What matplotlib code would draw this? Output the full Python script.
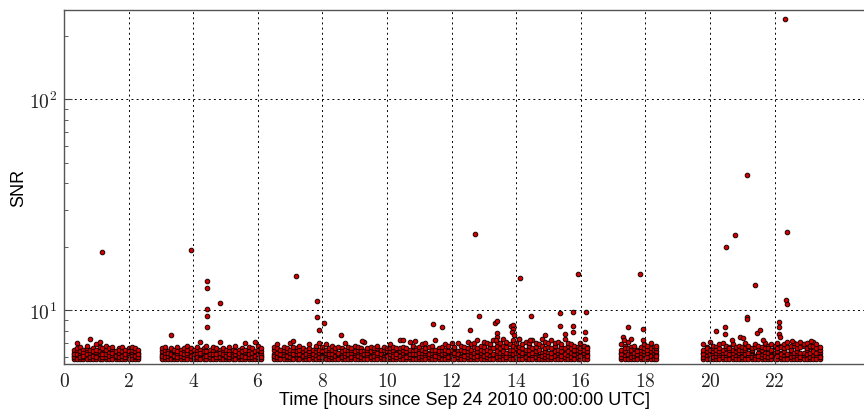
import matplotlib
matplotlib.use("Agg")
import matplotlib.pyplot as plt
from matplotlib.ticker import FixedLocator, FixedFormatter, LogLocator, NullFormatter

plt.rcParams['mathtext.fontset'] = 'cm'

# Background triggers: one row of SNR values per time bin (hours)
band_hours = [
    0.30, 0.39, 0.50, 0.59, 0.70, 0.80, 0.89, 1.00, 1.10, 1.19, 1.30, 1.40, 1.49, 1.60, 1.70,
    1.79, 1.90, 2.00, 2.09, 2.20, 2.29,
    3.02, 3.12, 3.21, 3.32, 3.42, 3.51, 3.62, 3.72, 3.81, 3.92, 4.02, 4.11, 4.22, 4.32, 4.41,
    4.52, 4.62, 4.71, 4.82, 4.92, 5.01, 5.12, 5.22, 5.31, 5.42, 5.52, 5.61, 5.72, 5.82, 5.91,
    6.02, 6.11,
    6.50, 6.60, 6.69, 6.80, 6.90, 6.99, 7.10, 7.20, 7.29, 7.40, 7.50, 7.59, 7.70, 7.80, 7.89,
    8.00, 8.10, 8.19, 8.30, 8.40, 8.49, 8.60, 8.70, 8.79, 8.90, 9.00, 9.09, 9.20, 9.30, 9.39,
    9.50, 9.60, 9.69, 9.80, 9.90, 9.99, 10.10, 10.20, 10.29, 10.40, 10.50, 10.59, 10.70, 10.80,
    10.89, 11.00, 11.10, 11.19, 11.30, 11.40, 11.49, 11.60, 11.70, 11.79, 11.90, 12.00, 12.09,
    12.20, 12.30, 12.39, 12.50, 12.60, 12.69, 12.80, 12.90, 12.99, 13.10, 13.20, 13.29, 13.40,
    13.50, 13.59, 13.70, 13.80, 13.89, 14.00, 14.10, 14.19, 14.30, 14.40, 14.49, 14.60, 14.70,
    14.79, 14.90, 15.00, 15.09, 15.20, 15.30, 15.39, 15.50, 15.60, 15.69, 15.80, 15.90, 15.99,
    16.10, 16.20,
    17.26, 17.36, 17.45, 17.56, 17.66, 17.75, 17.86, 17.96, 18.05, 18.16, 18.26, 18.33,
    19.80, 19.90, 19.99, 20.10, 20.20, 20.29, 20.40, 20.50, 20.59, 20.70, 20.80, 20.89, 21.00,
    21.10, 21.19, 21.30, 21.40, 21.49, 21.60, 21.70, 21.79, 21.90, 22.00, 22.09, 22.20, 22.30,
    22.39, 22.50, 22.60, 22.69, 22.80, 22.90, 22.99, 23.10, 23.20, 23.29, 23.40, 23.50, 23.59,
    23.70, 23.80, 23.89, 23.97,
]
band_snr = [
    # 0.3 - 2.3 h
    [5.9, 6.1, 6.3, 6.0, 6.5, 6.2], [6.0, 5.9, 6.4, 6.6, 6.2, 7.0], [6.1, 6.3, 5.9, 6.0, 6.7, 6.4],
    [5.9, 6.2, 6.5, 6.0, 6.3, 6.1], [6.0, 6.4, 6.2, 5.9, 6.6, 6.8], [6.1, 5.9, 6.3, 6.5, 6.0, 7.3],
    [6.2, 6.0, 6.6, 5.9, 6.4, 6.1], [5.9, 6.3, 6.1, 6.5, 6.0, 6.9], [6.0, 6.2, 5.9, 6.4, 6.7, 7.1],
    [6.1, 5.9, 6.3, 6.6, 6.0, 6.2], [5.9, 6.4, 6.0, 6.2, 6.5, 6.8], [6.2, 6.0, 5.9, 6.3, 6.6, 6.1],
    [6.0, 6.1, 6.5, 5.9, 6.3, 6.7], [5.9, 6.3, 6.0, 6.2, 6.4, 6.1], [6.1, 5.9, 6.6, 6.0, 6.3, 6.5],
    [6.0, 6.2, 5.9, 6.4, 6.1, 6.7], [5.9, 6.1, 6.3, 6.0, 6.5, 6.2], [6.2, 6.0, 5.9, 6.6, 6.3, 6.4],
    [6.0, 6.3, 6.1, 5.9, 6.5, 6.7], [5.9, 6.2, 6.0, 6.4, 6.1, 6.6], [6.1, 5.9, 6.3, 6.0, 6.5, 6.2],
    # 3.0 - 6.1 h
    [6.0, 5.9, 6.2, 6.4, 6.6, 6.1], [5.9, 6.1, 6.3, 6.0, 6.5, 6.7], [6.2, 6.0, 5.9, 6.4, 6.1, 6.3],
    [6.0, 6.3, 6.1, 5.9, 6.6, 6.2], [5.9, 6.2, 6.4, 6.0, 6.5, 6.1], [6.1, 5.9, 6.0, 6.3, 6.7, 6.4],
    [6.0, 6.2, 5.9, 6.5, 6.1, 6.3], [5.9, 6.4, 6.1, 6.0, 6.6, 6.2], [6.2, 6.0, 6.3, 5.9, 6.5, 6.8],
    [6.0, 5.9, 6.2, 6.4, 6.1, 6.6], [6.1, 6.3, 5.9, 6.0, 6.5, 6.2], [5.9, 6.1, 6.4, 6.2, 6.0, 6.7],
    [6.0, 6.2, 5.9, 6.5, 6.3, 7.1], [6.1, 5.9, 6.0, 6.3, 6.6, 6.4], [6.2, 6.0, 6.4, 5.9, 6.1, 6.8],
    [5.9, 6.3, 6.1, 6.0, 6.5, 6.2], [6.0, 6.1, 5.9, 6.4, 6.2, 6.7], [6.1, 5.9, 6.3, 6.0, 6.6, 6.2],
    [5.9, 6.2, 6.0, 6.5, 6.3, 7.1], [6.0, 6.4, 6.1, 5.9, 6.2, 6.6], [6.2, 5.9, 6.0, 6.3, 6.5, 6.1],
    [5.9, 6.1, 6.4, 6.0, 6.7, 6.2], [6.0, 6.3, 5.9, 6.2, 6.5, 6.1], [6.1, 6.0, 6.2, 5.9, 6.4, 6.8],
    [5.9, 6.2, 6.0, 6.5, 6.1, 6.3], [6.0, 5.9, 6.3, 6.1, 6.6, 6.4], [6.2, 6.1, 5.9, 6.0, 6.5, 7.0],
    [5.9, 6.3, 6.0, 6.4, 6.2, 6.7], [6.1, 5.9, 6.2, 6.0, 6.6, 6.3], [6.0, 6.2, 6.4, 5.9, 6.1, 7.1],
    [5.9, 6.0, 6.3, 6.5, 6.2, 6.8], [6.1, 6.2, 5.9, 6.0, 6.4, 6.6],
    # 6.5 - 16.2 h
    [6.0, 5.9, 6.2, 6.5, 6.1, 6.7], [5.9, 6.1, 6.3, 6.0, 6.6, 6.9], [6.1, 6.0, 5.9, 6.4, 6.2, 6.5],
    [6.0, 6.3, 6.1, 5.9, 6.5, 6.7], [5.9, 6.2, 6.0, 6.4, 6.1, 6.6], [6.2, 5.9, 6.3, 6.0, 6.5, 7.0],
    [6.0, 6.1, 5.9, 6.4, 6.2, 6.7], [5.9, 6.3, 6.0, 6.2, 6.6, 6.4], [6.1, 6.0, 6.2, 5.9, 6.5, 6.8],
    [5.9, 6.2, 6.4, 6.0, 6.1, 6.6], [6.0, 5.9, 6.3, 6.1, 6.5, 6.2], [6.2, 6.0, 5.9, 6.4, 6.6, 6.9],
    [5.9, 6.1, 6.3, 6.0, 6.2, 6.5], [6.0, 6.4, 6.1, 5.9, 6.6, 6.8], [6.1, 5.9, 6.0, 6.3, 6.5, 7.0],
    [5.9, 6.2, 6.1, 6.4, 6.0, 6.7], [6.0, 6.0, 6.3, 5.9, 6.5, 6.9], [6.2, 5.9, 6.1, 6.4, 6.2, 6.6],
    [5.9, 6.3, 6.0, 6.2, 6.5, 6.8], [6.0, 6.1, 5.9, 6.4, 6.1, 6.6], [6.1, 6.0, 6.2, 5.9, 6.3, 6.7],
    [5.9, 6.2, 6.4, 6.0, 6.6, 6.4], [6.0, 5.9, 6.1, 6.3, 6.5, 7.0], [6.2, 6.0, 5.9, 6.4, 6.2, 6.7],
    [5.9, 6.1, 6.3, 6.0, 6.5, 6.6], [6.0, 6.3, 6.0, 5.9, 6.4, 6.8], [6.1, 5.9, 6.2, 6.5, 6.1, 6.7],
    [5.9, 6.2, 6.0, 6.3, 6.6, 6.4], [6.0, 6.1, 5.9, 6.4, 6.2, 7.1], [6.2, 6.0, 6.3, 5.9, 6.5, 6.6],
    [5.9, 6.3, 6.1, 6.0, 6.4, 6.7], [6.0, 5.9, 6.2, 6.5, 6.1, 6.6], [6.1, 6.0, 5.9, 6.3, 6.6, 6.8],
    [5.9, 6.2, 6.4, 6.0, 6.2, 6.5], [6.0, 6.1, 6.0, 5.9, 6.5, 6.7], [6.2, 5.9, 6.3, 6.1, 6.4, 6.6],
    [5.9, 6.0, 6.2, 6.4, 6.6, 6.9], [6.0, 6.3, 5.9, 6.1, 6.5, 6.7], [6.1, 5.9, 6.0, 6.3, 6.2, 6.6],
    [5.9, 6.2, 6.1, 6.4, 6.6, 7.2], [6.0, 6.0, 6.3, 5.9, 6.5, 6.7], [6.2, 5.9, 6.1, 6.4, 6.0, 6.6],
    [5.9, 6.3, 6.0, 6.2, 6.5, 7.1], [6.0, 6.1, 5.9, 6.4, 6.2, 6.8], [6.1, 6.0, 6.2, 5.9, 6.6, 6.5],
    [5.9, 6.2, 6.4, 6.0, 6.3, 6.7], [6.0, 5.9, 6.1, 6.3, 6.5, 6.9], [6.2, 6.0, 5.9, 6.4, 6.6, 7.0],
    [5.9, 6.1, 6.3, 6.0, 6.2, 6.7], [6.0, 6.3, 6.0, 5.9, 6.5, 6.8], [6.1, 5.9, 6.2, 6.5, 6.1, 7.2],
    [5.9, 6.2, 6.0, 6.3, 6.6, 6.4], [6.0, 6.1, 5.9, 6.4, 6.2, 6.7], [6.2, 6.0, 6.3, 5.9, 6.5, 6.9],
    [5.9, 6.3, 6.1, 6.0, 6.4, 6.8], [6.0, 5.9, 6.2, 6.5, 6.1, 7.0], [6.1, 6.0, 5.9, 6.3, 6.6, 6.7],
    [5.9, 6.2, 6.4, 6.0, 6.2, 7.0], [6.0, 6.1, 6.0, 5.9, 6.5, 6.8], [6.2, 5.9, 6.3, 6.1, 6.4, 6.7],
    [5.9, 6.0, 6.2, 6.4, 6.6, 7.1], [6.0, 6.3, 5.9, 6.1, 6.5, 6.9], [6.1, 5.9, 6.0, 6.3, 6.7, 7.0],
    [5.9, 6.2, 6.1, 6.4, 6.6, 7.2], [6.0, 6.0, 6.3, 5.9, 6.5, 6.8], [6.2, 5.9, 6.1, 6.4, 6.7, 7.1],
    [5.9, 6.3, 6.0, 6.2, 6.5, 7.0], [6.0, 6.1, 5.9, 6.4, 6.7, 6.9], [6.1, 6.0, 6.2, 5.9, 6.6, 7.2],
    [5.9, 6.2, 6.4, 6.0, 6.8, 7.1], [6.0, 5.9, 6.1, 6.3, 6.6, 7.0], [6.2, 6.0, 5.9, 6.4, 6.8, 7.3],
    [5.9, 6.1, 6.3, 6.0, 6.7, 7.1], [6.0, 6.3, 6.0, 5.9, 6.5, 6.9], [6.1, 5.9, 6.2, 6.5, 6.8, 7.2],
    [5.9, 6.2, 6.0, 6.3, 6.6, 7.0], [6.0, 6.1, 5.9, 6.4, 6.7, 7.3], [6.2, 6.0, 6.3, 5.9, 6.6, 6.9],
    [5.9, 6.3, 6.1, 6.0, 6.5, 7.1], [6.0, 5.9, 6.2, 6.5, 6.8, 7.0], [6.1, 6.0, 5.9, 6.3, 6.6, 7.2],
    [5.9, 6.2, 6.4, 6.0, 6.7, 7.0], [6.0, 6.1, 6.0, 5.9, 6.5, 6.9], [6.2, 5.9, 6.3, 6.1, 6.8, 7.3],
    [5.9, 6.0, 6.2, 6.4, 6.6, 7.1], [6.0, 6.3, 5.9, 6.1, 6.7, 7.0], [6.1, 5.9, 6.0, 6.3, 6.6, 7.2],
    [5.9, 6.2, 6.1, 6.4, 6.8, 7.0], [6.0, 6.0, 6.3, 5.9, 6.5, 7.1], [6.2, 5.9, 6.1, 6.4, 6.7, 6.9],
    [5.9, 6.3, 6.0, 6.2, 6.6, 7.3], [6.0, 6.1, 5.9, 6.4, 6.8, 7.0],
    # 17.3 - 18.3 h
    [5.9, 6.1, 6.3, 6.0, 6.6, 6.9], [6.0, 6.2, 5.9, 6.4, 6.5, 6.8], [6.1, 5.9, 6.0, 6.3, 6.7, 6.5],
    [5.9, 6.2, 6.4, 6.1, 6.6, 7.0], [6.0, 6.0, 6.3, 5.9, 6.5, 6.8], [6.2, 5.9, 6.1, 6.4, 6.7, 6.6],
    [5.9, 6.3, 6.0, 6.2, 6.5, 6.9], [6.0, 6.1, 5.9, 6.4, 6.8, 6.6], [6.1, 6.0, 6.2, 5.9, 6.6, 7.1],
    [5.9, 6.2, 6.4, 6.0, 6.7, 6.5], [6.0, 5.9, 6.1, 6.3, 6.6, 6.8], [6.1, 6.0, 5.9, 6.2, 6.5, 6.4],
    # 19.8 - 24.0 h
    [5.9, 6.1, 6.3, 6.0, 6.5, 6.7], [6.0, 6.2, 5.9, 6.4, 6.6, 6.9], [6.1, 5.9, 6.0, 6.3, 6.5, 6.8],
    [5.9, 6.2, 6.4, 6.1, 6.6, 7.0], [6.0, 6.0, 6.3, 5.9, 6.7, 6.5], [6.2, 5.9, 6.1, 6.4, 6.6, 6.8],
    [5.9, 6.3, 6.0, 6.2, 6.5, 6.9], [6.0, 6.1, 5.9, 6.4, 6.7, 6.6], [6.1, 6.0, 6.2, 5.9, 6.5, 7.1],
    [5.9, 6.2, 6.4, 6.0, 6.6, 6.8], [6.0, 5.9, 6.1, 6.3, 6.7, 6.5], [6.2, 6.0, 5.9, 6.4, 6.6, 6.9],
    [5.9, 6.1, 6.3, 6.0, 6.5, 7.0], [6.0, 6.3, 6.0, 5.9, 6.6, 6.8], [6.1, 5.9, 6.2, 6.5, 6.7, 6.6],
    [5.9, 6.2, 6.0, 6.3, 6.5, 6.9], [6.0, 6.1, 5.9, 6.4, 6.6, 6.7], [6.2, 6.0, 6.3, 5.9, 6.8, 6.5],
    [5.9, 6.3, 6.1, 6.0, 6.5, 6.7], [6.0, 5.9, 6.2, 6.5, 6.6, 7.0], [6.1, 6.0, 5.9, 6.3, 6.7, 6.8],
    [5.9, 6.2, 6.4, 6.0, 6.5, 6.6], [6.0, 6.1, 6.0, 5.9, 6.7, 6.9], [6.2, 5.9, 6.3, 6.1, 6.6, 6.8],
    [5.9, 6.0, 6.2, 6.4, 6.5, 6.7], [6.0, 6.3, 5.9, 6.1, 6.6, 7.0], [6.1, 5.9, 6.0, 6.3, 6.8, 6.6],
    [5.9, 6.2, 6.1, 6.4, 6.5, 6.9], [6.0, 6.0, 6.3, 5.9, 6.7, 6.8], [6.2, 5.9, 6.1, 6.4, 6.6, 7.0],
    [5.9, 6.3, 6.0, 6.2, 6.8, 6.7], [6.0, 6.1, 5.9, 6.4, 6.6, 6.9], [6.1, 6.0, 6.2, 5.9, 6.7, 7.1],
    [5.9, 6.2, 6.4, 6.0, 6.5, 6.8], [6.0, 5.9, 6.1, 6.3, 6.8, 7.0], [6.2, 6.0, 5.9, 6.4, 6.6, 6.9],
    [5.9, 6.1, 6.3, 6.0, 6.7, 7.1], [6.0, 6.3, 6.0, 5.9, 6.8, 6.9], [6.1, 5.9, 6.2, 6.5, 6.6, 7.0],
    [5.9, 6.2, 6.0, 6.3, 6.7, 6.8], [6.0, 6.1, 5.9, 6.4, 6.8, 7.1], [6.2, 6.0, 6.3, 5.9, 6.6, 6.9],
    [5.9, 6.3, 6.1, 6.0, 6.5, 6.7],
]

# Louder triggers standing above the background
loud_hours = [
    1.17, 3.31, 3.93, 4.42, 4.42, 4.42, 4.42, 4.43, 4.83, 7.10, 7.19, 7.84, 7.84, 7.88, 8.05,
    8.57, 9.22, 10.50, 10.87, 11.41, 11.69, 12.57, 12.72, 12.86, 13.34, 13.41, 13.40, 13.42,
    13.38, 13.84, 13.91, 13.90, 13.88, 13.92, 14.10, 14.13, 14.43, 14.46, 14.89, 15.36, 15.36,
    15.50, 15.77, 15.77, 15.77, 15.90, 16.13, 16.14, 16.15, 17.30, 17.33, 17.45, 17.57, 17.83,
    17.93, 17.93, 20.20, 20.48, 20.48, 20.50, 20.67, 20.77, 20.93, 21.03, 21.15, 21.15, 21.16,
    21.39, 21.45, 21.55, 21.63, 22.13, 22.13, 22.14, 22.16, 22.32, 22.37, 22.39, 22.40, 22.53,
    23.14,
]
loud_snr = [
    18.8, 7.6, 19.3, 13.8, 12.8, 10.1, 9.45, 8.3, 10.8, 7.15, 14.6, 11.1, 9.3, 8.1, 8.7,
    7.65, 7.15, 7.25, 7.15, 8.6, 8.35, 8.1, 23.1, 9.35, 8.7, 8.9, 7.8, 7.5,
    7.25, 8.45, 8.55, 8.2, 7.9, 7.6, 7.35, 14.2, 7.25, 9.45, 7.6, 9.7, 8.45,
    7.75, 9.8, 8.4, 7.9, 14.9, 7.9, 7.3, 9.8, 7.45, 7.25, 8.35, 7.35, 14.8,
    8.2, 7.25, 8.0, 8.35, 7.75, 20.0, 7.2, 22.8, 7.45, 7.4, 43.8, 9.25, 9.1,
    13.2, 7.85, 8.1, 7.25, 8.8, 8.35, 7.75, 7.45, 241.0, 11.2, 23.4, 10.7, 7.15,
    7.15,
]

hour_ticks = [0, 2, 4, 6, 8, 10, 12, 14, 16, 18, 20, 22]
snr_ticks = [10, 100]
snr_tick_labels = [r'$10^{1}$', r'$10^{2}$']

hours = [h for h, row in zip(band_hours, band_snr) for _ in row] + loud_hours
snr = [v for row in band_snr for v in row] + loud_snr

fig = plt.figure(figsize=(8.64, 4.10), dpi=100)
ax = fig.add_axes([64 / 864, 44.7 / 410, 800 / 864, 354.3 / 410])

ax.scatter(hours, snr, s=11, c='#d40000', edgecolors='#1a0000', linewidths=0.7)

ax.set_yscale('log')
ax.set_xlim(0, 24.77)
ax.set_ylim(5.55, 265)

ax.xaxis.set_major_locator(FixedLocator(hour_ticks))
ax.xaxis.set_major_formatter(FixedFormatter([r'$%d$' % h for h in hour_ticks]))
ax.yaxis.set_major_locator(FixedLocator(snr_ticks))
ax.yaxis.set_major_formatter(FixedFormatter(snr_tick_labels))
ax.yaxis.set_minor_locator(LogLocator(base=10, subs=range(2, 10)))
ax.yaxis.set_minor_formatter(NullFormatter())

ax.tick_params(axis='both', which='major', direction='in', length=6, width=0.8,
               labelsize=14, pad=5, color='#444444', labelcolor='#222222')
ax.tick_params(axis='both', which='minor', direction='in', length=3, width=0.6,
               color='#444444')
ax.tick_params(axis='x', which='minor', bottom=False)

ax.grid(True, which='major', color='black', linestyle=(0, (2, 3.3)), linewidth=0.7)

for side in ['left', 'bottom', 'top']:
    ax.spines[side].set_color('#555555')
    ax.spines[side].set_linewidth(1.0)
ax.spines['right'].set_visible(False)

ax.set_xlabel('Time [hours since Sep 24 2010 00:00:00 UTC]', fontsize=13,
              family='Liberation Sans')
ax.set_ylabel('SNR', fontsize=13, family='Liberation Sans')
ax.xaxis.set_label_coords(0.501, -0.075)
ax.yaxis.set_label_coords(-0.046, 0.5)

fig.savefig('out.png', dpi=100)
